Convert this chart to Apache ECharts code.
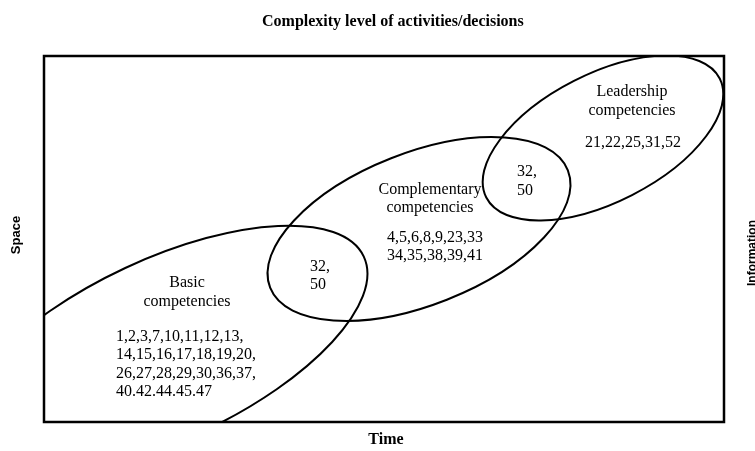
<!DOCTYPE html>
<html><head><meta charset="utf-8">
<script src="https://cdn.jsdelivr.net/npm/echarts@6/dist/echarts.min.js"></script>
<style>html,body{margin:0;padding:0;background:#fff}#c{width:755px;height:451px}</style>
</head><body><div id="c"></div>
<script>
// Ellipses (data units: x right, y down, box = 680 x 366)
const shapeNames = ['Basic', 'Complementary', 'Leadership'];
const centerX = [119.5, 375, 559];
const centerY = [294, 173, 82];
const semiMajor = [221, 160, 131];
const semiMinor = [90.5, 76, 64];
const tiltDeg = [25, 21.5, 27];

// Text blocks inside the diagram
const labelTexts = [
  'Basic\ncompetencies',
  '1,2,3,7,10,11,12,13,\n14,15,16,17,18,19,20,\n26,27,28,29,30,36,37,\n40.42.44.45.47',
  '32,\n50',
  'Complementary\ncompetencies',
  '4,5,6,8,9,23,33\n34,35,38,39,41',
  '32,\n50',
  'Leadership\ncompetencies',
  '21,22,25,31,52'
];
const labelX = [143, 72, 266, 386, 343, 473, 588, 589];
const labelY = [236.5, 308.5, 220, 143, 191, 125.5, 45.5, 87];
const labelAlign = ['center', 'left', 'left', 'center', 'left', 'left', 'center', 'center'];

const titleText = 'Complexity level of activities/decisions';
const xName = 'Time';
const yLeftName = 'Space';
const yRightName = 'Information';

const chart = echarts.init(document.getElementById('c'), null, {renderer: 'canvas'});
const serif = '"Liberation Serif", "Times New Roman", serif';
const sans = '"Liberation Sans", Arial, sans-serif';

const ellipseData = shapeNames.map((n, i) => [centerX[i], centerY[i], semiMajor[i], semiMinor[i], tiltDeg[i], n]);
const labelData = labelTexts.map((t, i) => [labelX[i], labelY[i], t, labelAlign[i]]);

chart.setOption({
  animation: false,
  backgroundColor: '#fff',
  title: {
    text: titleText, left: 257, top: 9,
    textStyle: {fontFamily: serif, fontWeight: 'bold', fontSize: 16, color: '#000'}
  },
  grid: {left: 44, top: 56, width: 680, height: 366, show: true, borderColor: '#000', borderWidth: 2.5,
         backgroundColor: 'transparent', containLabel: false, outerBoundsMode: 'none'},
  xAxis: {
    type: 'value', min: 0, max: 680,
    axisLine: {show: false}, axisTick: {show: false}, axisLabel: {show: false}, splitLine: {show: false},
    name: xName, nameLocation: 'middle', nameGap: 10,
    nameTextStyle: {fontFamily: serif, fontWeight: 'bold', fontSize: 16, color: '#000', padding: [0, 0, 0, 4]}
  },
  yAxis: [{
    type: 'value', min: 0, max: 366, inverse: true,
    axisLine: {show: false}, axisTick: {show: false}, axisLabel: {show: false}, splitLine: {show: false},
    name: yLeftName, nameLocation: 'middle', nameGap: 21, nameRotate: 90,
    nameTextStyle: {fontFamily: sans, fontWeight: 'bold', fontSize: 13, color: '#000', padding: [0, 0, 0, 8]}
  }, {
    type: 'value', min: 0, max: 366, inverse: true, position: 'right',
    axisLine: {show: false}, axisTick: {show: false}, axisLabel: {show: false}, splitLine: {show: false},
    name: yRightName, nameLocation: 'middle', nameGap: 23, nameRotate: 90,
    nameTextStyle: {fontFamily: sans, fontWeight: 'bold', fontSize: 12, color: '#000', padding: [0, 28, 0, 0]}
  }],
  series: [{
    type: 'custom',
    clip: true,
    data: ellipseData,
    renderItem: function (params, api) {
      const c = api.coord([api.value(0), api.value(1)]);
      const s = api.size([api.value(2), api.value(3)]);
      return {
        type: 'ellipse',
        x: c[0], y: c[1],
        rotation: api.value(4) * Math.PI / 180,
        shape: {cx: 0, cy: 0, rx: s[0], ry: s[1]},
        style: {fill: null, stroke: '#000', lineWidth: 2}
      };
    }
  }, {
    type: 'custom',
    data: labelData,
    renderItem: function (params, api) {
      const c = api.coord([api.value(0), api.value(1)]);
      const d = labelData[params.dataIndex];
      return {
        type: 'text', x: c[0], y: c[1],
        style: {text: d[2], fill: '#000', font: '16px ' + serif, align: d[3], verticalAlign: 'middle', lineHeight: 18.5}
      };
    }
  }]
});
</script></body></html>
